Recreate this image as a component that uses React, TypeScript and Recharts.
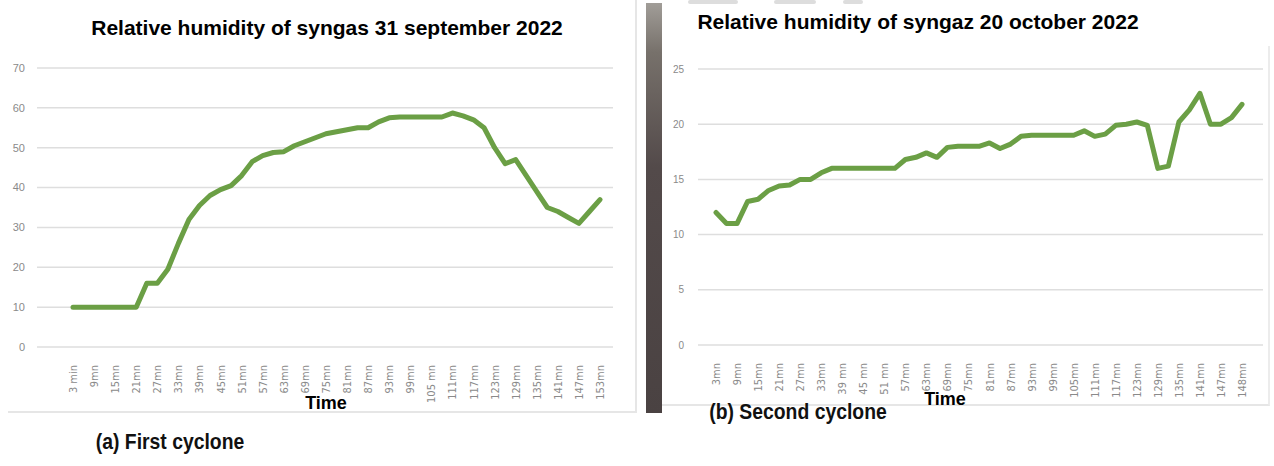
import React from 'react';
import { LineChart, Line, XAxis, YAxis, CartesianGrid } from 'recharts';

// ---------- Data: first cyclone (31 september 2022) ----------
const timeLabels1 = [
  '3 min', '6mn', '9mn', '12mn', '15mn', '18mn', '21mn', '24mn', '27mn', '30mn',
  '33mn', '36mn', '39mn', '42mn', '45mn', '48mn', '51mn', '54mn', '57mn', '60mn',
  '63mn', '66mn', '69mn', '72mn', '75mn', '78mn', '81mn', '84mn', '87mn', '90mn',
  '93mn', '96mn', '99mn', '102mn', '105 mn', '108mn', '111mn', '114mn', '117mn', '120mn',
  '123mn', '126mn', '129mn', '132mn', '135mn', '138mn', '141mn', '144mn', '147mn', '150mn',
  '153mn',
];
const humidity1 = [
  10, 10, 10, 10, 10, 10, 10, 16, 16, 19.5,
  26, 32, 35.5, 38, 39.5, 40.5, 43, 46.5, 48, 48.8,
  49, 50.5, 51.5, 52.5, 53.5, 54, 54.5, 55, 55, 56.5,
  57.5, 57.7, 57.7, 57.7, 57.7, 57.7, 58.7, 58, 57, 55,
  50, 46, 47, 43, 39, 35, 34, 32.5, 31, 34,
  37,
];
const yTicks1 = [0, 10, 20, 30, 40, 50, 60, 70];

// ---------- Data: second cyclone (20 october 2022) ----------
const timeLabels2 = [
  '3mn', '6mn', '9mn', '12mn', '15mn', '18mn', '21mn', '24mn', '27mn', '30mn',
  '33mn', '36mn', '39 mn', '42mn', '45 mn', '48mn', '51 mn', '54mn', '57mn', '60mn',
  '63mn', '66mn', '69mn', '72mn', '75mn', '78mn', '81mn', '84mn', '87mn', '90mn',
  '93mn', '96mn', '99mn', '102mn', '105mn', '108mn', '111mn', '114mn', '117mn', '120mn',
  '123mn', '126mn', '129mn', '132mn', '135mn', '138mn', '141mn', '144mn', '147mn', '150mn',
  '148mn',
];
const humidity2 = [
  12, 11, 11, 13, 13.2, 14, 14.4, 14.5, 15, 15,
  15.6, 16, 16, 16, 16, 16, 16, 16, 16.8, 17,
  17.4, 17, 17.9, 18, 18, 18, 18.3, 17.8, 18.2, 18.9,
  19, 19, 19, 19, 19, 19.4, 18.9, 19.1, 19.9, 20,
  20.2, 19.9, 16, 16.2, 20.2, 21.3, 22.8, 20, 20, 20.6,
  21.8,
];
const yTicks2 = [0, 5, 10, 15, 20, 25];

const data1 = timeLabels1.map((t, i) => ({ time: t, rh: humidity1[i] }));
const data2 = timeLabels2.map((t, i) => ({ time: t, rh: humidity2[i] }));

const GREEN = '#6b9f45';
const GRID = '#dedede';
const TICK_COLOR = '#8a8a8a';

const RotatedTick = (props: any) => {
  const { x, y, payload } = props;
  return (
    <g transform={`translate(${x + 4},${y + 10})`}>
      <text
        transform="rotate(-90)"
        textAnchor="end"
        fill={TICK_COLOR}
        fontSize={11}
        fontFamily="'DejaVu Sans Condensed', 'Liberation Sans', sans-serif"
      >
        {payload.value}
      </text>
    </g>
  );
};

const titleStyle: React.CSSProperties = {
  position: 'absolute',
  fontFamily: "'Liberation Sans', Arial, sans-serif",
  fontWeight: 'bold',
  fontSize: 21,
  color: '#000',
  whiteSpace: 'nowrap',
  transform: 'translate(-50%, -50%)',
};

const axisTitleStyle: React.CSSProperties = {
  ...titleStyle,
  fontSize: 18,
};

const captionStyle: React.CSSProperties = {
  position: 'absolute',
  fontFamily: "'Liberation Sans Narrow', 'Liberation Sans', Arial, sans-serif",
  fontWeight: 'bold',
  fontSize: 22,
  color: '#111',
  whiteSpace: 'nowrap',
  transform: 'translate(-50%, -50%) scaleX(0.88)',
};

export default function App() {
  return (
    <div
      style={{
        position: 'fixed',
        left: 0,
        top: 0,
        width: 1274,
        height: 466,
        background: '#fff',
        overflow: 'hidden',
      }}
    >
      {/* Left panel frame */}
      <div
        style={{
          position: 'absolute',
          left: 8,
          top: -2,
          width: 629,
          height: 415,
          borderRight: '2px solid #e6e6e6',
          borderBottom: '2px solid #e6e6e6',
          boxSizing: 'border-box',
        }}
      />
      {/* Right panel frame */}
      <div
        style={{
          position: 'absolute',
          left: 662,
          top: 46,
          width: 608,
          height: 360,
          borderRight: '2px solid #ececec',
          borderBottom: '2px solid #e6e6e6',
          boxSizing: 'border-box',
        }}
      />
      {/* dark photo strip */}
      <div
        style={{
          position: 'absolute',
          left: 646,
          top: 3,
          width: 16,
          height: 410,
          background: 'linear-gradient(180deg, #a19d98 0%, #77716b 12%, #534a4a 40%, #4a4242 100%)',
        }}
      />
      {/* faint artifacts at top */}
      <div style={{ position: 'absolute', left: 688, top: 0, width: 50, height: 4, background: '#dddddd', borderRadius: 2 }} />
      <div style={{ position: 'absolute', left: 774, top: 0, width: 42, height: 4, background: '#dddddd', borderRadius: 2 }} />
      <div style={{ position: 'absolute', left: 843, top: 0, width: 20, height: 4, background: '#dddddd', borderRadius: 2 }} />

      {/* Left chart */}
      <div style={{ position: 'absolute', left: 0, top: 0 }}>
        <LineChart
          width={640}
          height={415}
          data={data1}
          margin={{ top: 68, right: 27, bottom: 8, left: 0 }}
        >
          <CartesianGrid vertical={false} stroke={GRID} strokeWidth={1.5} />
          <XAxis
            dataKey="time"
            interval={1}
            axisLine={false}
            tickLine={false}
            height={60}
            padding={{ left: 36, right: 13 }}
            tick={<RotatedTick />}
          />
          <YAxis
            width={37}
            domain={[0, 70]}
            ticks={yTicks1}
            axisLine={false}
            tickLine={false}
            tickMargin={6}
            tick={{ fill: TICK_COLOR, fontSize: 11, fontFamily: "'Liberation Sans', sans-serif" }}
          />
          <Line
            type="linear"
            dataKey="rh"
            stroke={GREEN}
            strokeWidth={5}
            strokeLinejoin="round"
            strokeLinecap="round"
            dot={false}
            activeDot={false}
            isAnimationActive={false}
          />
        </LineChart>
      </div>

      {/* Right chart */}
      <div style={{ position: 'absolute', left: 660, top: 0 }}>
        <LineChart
          width={614}
          height={410}
          data={data2}
          margin={{ top: 69, right: 11, bottom: 5, left: 0 }}
        >
          <CartesianGrid vertical={false} stroke={GRID} strokeWidth={1.5} />
          <XAxis
            dataKey="time"
            interval={1}
            axisLine={false}
            tickLine={false}
            height={60}
            padding={{ left: 18, right: 21 }}
            tick={<RotatedTick />}
          />
          <YAxis
            width={38}
            domain={[0, 25]}
            ticks={yTicks2}
            axisLine={false}
            tickLine={false}
            tickMargin={8}
            tick={{ fill: TICK_COLOR, fontSize: 10, fontFamily: "'Liberation Sans', sans-serif" }}
          />
          <Line
            type="linear"
            dataKey="rh"
            stroke={GREEN}
            strokeWidth={5}
            strokeLinejoin="round"
            strokeLinecap="round"
            dot={false}
            activeDot={false}
            isAnimationActive={false}
          />
        </LineChart>
      </div>

      {/* Titles */}
      <div style={{ ...titleStyle, left: 327, top: 28 }}>
        Relative humidity of syngas 31 september 2022
      </div>
      <div style={{ ...titleStyle, left: 918, top: 22 }}>
        Relative humidity of syngaz 20 october 2022
      </div>

      {/* Axis titles */}
      <div style={{ ...axisTitleStyle, left: 326, top: 403 }}>Time</div>
      <div style={{ ...axisTitleStyle, left: 945, top: 399 }}>Time</div>

      {/* Captions */}
      <div style={{ ...captionStyle, left: 170, top: 442 }}>(a) First cyclone</div>
      <div style={{ ...captionStyle, left: 798, top: 412 }}>(b) Second cyclone</div>
    </div>
  );
}
